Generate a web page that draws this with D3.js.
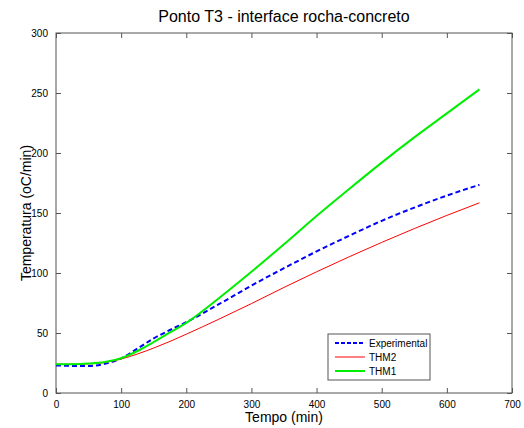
<!DOCTYPE html>
<html><head><meta charset="utf-8">
<script src="https://cdn.jsdelivr.net/npm/d3@7"></script>
<style>body{margin:0;background:#fff}svg{display:block;font-family:"Liberation Sans",Arial,sans-serif}</style>
</head><body>
<svg id="c" width="524" height="428"></svg>
<script>
const times = [0,25,50,75,100,125,150,175,200,250,300,350,400,450,500,550,600,650];
const experimental = [23,22.6,22.6,24.3,28.8,37,45.5,52.5,59,74,89.5,104,118,131,143.5,154.5,164.5,173.5];
const thm2 = [24,24,24.3,25.4,28.3,32.5,37.5,43,49,61.5,74.5,88,101,113.5,125.5,137,148,158.5];
const thm1 = [24,24,24.5,25.8,29,35,42.5,50.5,58.5,79,101,124,147.5,170,192,213,233,253];
const xTicks = [0,100,200,300,400,500,600,700];
const yTicks = [0,50,100,150,200,250,300];
const seriesNames = ["Experimental","THM2","THM1"];

const svg = d3.select("#c");
const L=56,R=512,T=33,B=393;
const x = d3.scaleLinear().domain([0,700]).range([L,R]);
const y = d3.scaleLinear().domain([0,300]).range([B,T]);
const axisColor="#555";

svg.append("rect").attr("x",L).attr("y",T).attr("width",R-L).attr("height",B-T)
  .attr("fill","none").attr("stroke",axisColor).attr("stroke-width",1);

function styleAxis(g){
  g.select(".domain").remove();
  g.selectAll(".tick line").attr("stroke",axisColor);
  g.selectAll(".tick text").attr("fill","#000").style("font-size","10px").style("font-family","'Liberation Sans',Arial,sans-serif");
}
svg.append("g").attr("transform",`translate(0,${B})`)
  .call(d3.axisBottom(x).tickValues(xTicks).tickSizeInner(-5).tickSizeOuter(0).tickPadding(8)).call(styleAxis);
svg.append("g").attr("transform",`translate(0,${T})`)
  .call(d3.axisTop(x).tickValues(xTicks).tickSizeInner(-5).tickSizeOuter(0).tickFormat("")).call(styleAxis);
svg.append("g").attr("transform",`translate(${L},0)`)
  .call(d3.axisLeft(y).tickValues(yTicks).tickSizeInner(-5).tickSizeOuter(0).tickPadding(8)).call(styleAxis);
svg.append("g").attr("transform",`translate(${R},0)`)
  .call(d3.axisRight(y).tickValues(yTicks).tickSizeInner(-5).tickSizeOuter(0).tickFormat("")).call(styleAxis);

const line = d3.line().x((d,i)=>x(times[i])).y(d=>y(d)).curve(d3.curveMonotoneX);
const styles = [
  {data:experimental,color:"#0000ff",w:2,dash:"5,3"},
  {data:thm2,color:"#ff0000",w:1,dash:null},
  {data:thm1,color:"#00ee00",w:2,dash:null}
];
styles.forEach(s=>{
  svg.append("path").datum(s.data).attr("d",line).attr("fill","none")
    .attr("stroke",s.color).attr("stroke-width",s.w).attr("stroke-dasharray",s.dash);
});

svg.append("text").attr("x",(L+R)/2).attr("y",22).attr("text-anchor","middle")
  .style("font-size","16px").text("Ponto T3 - interface rocha-concreto");
svg.append("text").attr("x",(L+R)/2).attr("y",422).attr("text-anchor","middle")
  .style("font-size","14px").text("Tempo (min)");
svg.append("text").attr("transform",`translate(31,${(T+B)/2}) rotate(-90)`).attr("text-anchor","middle")
  .style("font-size","14px").text("Temperatura (oC/min)");

const lg = svg.append("g");
lg.append("rect").attr("x",328).attr("y",334).attr("width",102).attr("height",46)
  .attr("fill","#fff").attr("stroke",axisColor).attr("stroke-width",1);
styles.forEach((s,i)=>{
  const yy = 343 + i*14;
  lg.append("line").attr("x1",335).attr("x2",365).attr("y1",yy).attr("y2",yy)
    .attr("stroke",s.color).attr("stroke-width",s.w).attr("stroke-dasharray",s.dash?"4,2":null);
  lg.append("text").attr("x",369).attr("y",yy+3.5).style("font-size","10px").text(seriesNames[i]);
});
</script>
</body></html>
